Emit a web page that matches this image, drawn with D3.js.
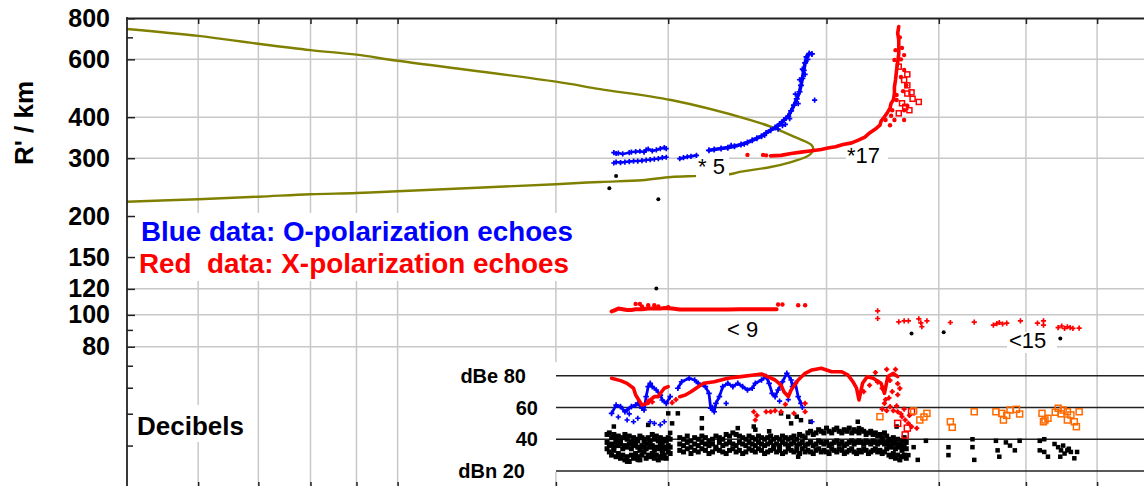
<!DOCTYPE html>
<html><head><meta charset="utf-8">
<script src="https://cdn.jsdelivr.net/npm/d3@7"></script>
<style>
body{margin:0;background:#fff}
svg{display:block}
text{font-family:"Liberation Sans",Arial,sans-serif}
</style>
</head><body>
<svg id="c" width="1144" height="486"></svg>
<script>
// ---------- axes / ticks ----------
const xGrid = [6,7,8,9,10,15,20,30,40,50,60];
const yMajor = [800,600,400,300,200,150,120,100,80];
const yMinor = [700,90,70,60,50,40,30];
const yGrid = [600,400,300,120,100,80];
const dbLevels = [80,60,40,20];
const dbLabels = ["dBe 80","60","40","dBn 20"];

// ---------- model curve (olive) ----------
const cutoffX = [5,6,7,8,9,10,15,16.8,20.15,24.7,26.0,27.4,28.5,28.9,29.0,28.8,28.5,27.4,26.0,24.1,23.4,21.6,20.15,18.7,16.8,15,10,9,8,7,6,5];
const cutoffR = [742,707,669,640,620,594,513,487,451,392,374,352,336,328,318,309,303,292,282,273,268,265,263,257,254,250,238,235,233,229,225,221];

// ---------- O-polarization echoes (blue), [x, R'] ----------
const oUpper = [[17.4,312],[17.5,310],[17.6,311],[17.8,309],[18.1,312],[18.2,313],[18.4,314],[18.6,315],[18.8,313],[18.9,318],[19.0,320],[19.2,316],[19.4,318],[19.6,321],[19.8,323],[19.9,321]];
const oLower = [[17.4,290],[17.5,292],[17.7,291],[17.9,292],[18.1,293],[18.3,294],[18.5,294],[18.7,295],[18.9,296],[19.1,297],[19.3,298],[19.5,299],[19.7,301],[19.9,302]];
const oMid = [[20.6,299],[20.8,301],[21.0,303],[21.2,304],[21.5,306]];
const oRise = [[22.2,317],[22.5,319],[22.9,321],[23.3,323],[23.7,326],[24.1,330],[24.5,335],[24.8,340],[25.1,345],[25.4,350],[25.7,358],[26.0,365],[26.3,372],[26.6,381],[26.9,392],[27.2,403],[27.4,418],[27.6,435],[27.8,455],[28.0,478],[28.1,500],[28.2,525],[28.3,555],[28.4,585],[28.5,610],[28.7,625],[28.9,623]];
const oScatter = [[27.0,380],[27.3,396],[27.7,470],[28.0,520],[28.2,560],[29.1,451],[27.9,440],[26.5,368],[26.8,377],[25.6,352],[24.3,331],[23.5,328],[28.4,540],[28.6,600]];

// ---------- X-polarization echoes (red), [x, R'] ----------
const xLead = [[24.5,307],[25.5,307],[25.7,306]];
const xRise = [[26.0,305],[26.7,306],[27.4,310],[28.1,313],[28.9,316],[29.6,319],[30.1,322],[30.7,325],[31.3,330],[32.0,334],[32.6,341],[33.1,348],[33.5,358],[34.0,368],[34.4,378],[34.5,389],[34.8,401],[35.1,415],[35.3,426],[35.4,441],[35.6,451],[35.7,472],[35.7,494],[35.8,519],[35.9,557],[36.0,588],[36.1,625],[36.1,662],[36.1,687],[36.0,721],[36.1,755]];
const xScatter = [[35.7,597],[36.6,618],[36.6,557],[36.8,500],[35.9,451],[36.6,420],[35.4,404],[34.9,392],[35.3,378],[36.6,392],[36.9,433],[35.9,467],[35.7,392],[36.3,530],[36.4,650],[36.2,700],[35.5,420],[36.5,480],[36.3,600],[35.8,640]];
const xSquares = [[36.9,472],[37.3,476],[38.0,445],[37.1,420],[36.1,411],[36.4,441],[36.9,500],[36.6,519],[36.1,570],[37.4,455],[36.7,430],[36.9,540]];
const x100 = [[17.3,102.5],[17.4,103],[17.6,104.5],[17.8,104],[18.0,103.5],[18.2,103.5],[18.4,104],[18.7,104],[19.0,104.5],[19.3,104.5],[19.6,104.5],[19.8,105],[20.2,104.5],[20.6,103.8],[21.2,103.8],[21.8,103.9],[22.5,103.8],[23.3,103.8],[24.0,104],[24.8,104],[25.6,104],[26.4,104]];
const x100Scatter = [[18.4,108],[18.6,108],[18.7,106],[19.0,107],[19.3,107],[19.5,106],[20.0,105.5],[26.5,107.5],[26.8,107.5],[27.9,107],[28.4,107]];
const xRight = [[34.2,102.8],[34.2,97.5],[36.1,95.2],[36.6,95.9],[37.0,95.9],[38.0,97.3],[38.2,94.6],[38.3,92],[38.8,95.9],[41.2,94.8],[43.8,95.1],[46.0,93],[46.4,94],[46.7,94.8],[47.1,93.8],[47.6,94.4],[49.3,95.9],[51.5,94.4],[52.3,95.9],[52.3,93],[54.3,91.5],[54.8,92.5],[55.2,91],[55.6,92],[56.0,91.5],[56.4,91],[57.3,91.1]];
const blackR = [[17.5,265],[17.2,243],[19.5,225],[19.4,120.3],[37.3,87.7],[40.5,88.5],[54.6,84.7]];

// ---------- Decibel panel, [x, dB] ----------
const dbRed1 = [[17.3,78.4],[17.7,76.9],[18.0,75.2],[18.3,72.1],[18.4,67.8],[18.6,63.6],[18.7,61.5],[19.0,62.6],[19.1,64.7],[19.3,66.8],[19.5,66.8],[19.6,68.9],[19.8,72.1],[20.0,73.1]];
const dbRed2 = [[20.6,66.8],[20.9,67.8],[21.2,69.9],[21.6,73.1],[21.9,75.2],[22.5,76.2],[23.3,78.4],[24.1,79.4],[24.9,80.4],[25.4,81.1],[25.8,79.4],[26.3,77.3],[26.7,74.1],[26.9,69.9],[27.2,66.8],[27.4,71.0],[27.9,77.3],[28.4,81.5],[28.9,83.6],[29.6,84.7],[30.4,82.5],[31.2,82.5],[31.7,80.4],[32.1,76.2],[32.4,72.1],[32.6,64.7],[32.9,75.2],[33.3,79.4],[33.8,78.4],[34.5,75.2],[34.8,68.9],[35.1,79.4],[35.6,81.5],[36.0,79.4]];
const dbRedScatter = [[33.0,70],[33.5,74],[34.0,82],[34.2,76],[34.6,72],[35.0,84],[35.3,77],[35.5,70],[35.8,84],[36.0,75],[36.2,72],[35.2,66],[34.9,65],[36.0,68],[34.8,62.6],[35.3,60.5],[35.6,58],[36.0,57.3],[36.3,56],[36.4,54.2],[36.7,52.1],[37.0,50],[37.3,47.9],[37.8,46.9],[35.0,58],[35.9,61],[36.6,59],[37.1,55],[34.6,59],[19.0,64],[19.2,63.5],[24.9,57.3],[25.0,52.1],[25.1,55],[25.7,57.3],[26.0,57.3],[26.3,58],[26.7,57.3],[27.6,56.3],[28.4,62.6],[28.4,57.3],[27.0,62],[20.2,63],[20.4,65]];
const dbBlue1 = [[17.3,56.3],[17.5,61.5],[17.7,60.5],[17.9,57.3],[18.0,58.4],[18.2,60.5],[18.4,61.5],[18.5,62.6],[18.7,59.5],[18.8,58.4],[18.9,66.8],[19.0,73.1],[19.1,75.2],[19.2,73.1],[19.4,71.0],[19.6,67.8],[19.7,64.7],[19.9,62.6],[20.1,66.8]];
const dbBlue2 = [[20.5,72.1],[20.7,76.2],[21.1,78.4],[21.4,77.3],[21.6,75.2],[22.0,73.1],[22.2,68.9],[22.3,59.5],[22.5,57.3],[22.6,62.6],[22.8,66.8],[23.0,73.1],[23.3,75.2],[23.6,73.1],[23.9,75.2],[24.2,73.1],[24.5,71.0],[24.8,72.1],[25.0,75.2],[25.4,77.3],[25.7,79.4],[25.9,75.2],[26.1,68.9],[26.3,66.8],[26.5,71.0],[26.8,76.2],[27.1,81.5],[27.4,77.3],[27.5,73.1],[27.7,75.2],[27.9,66.8],[28.1,62.6]];
const dbBlueScatter = [[18.0,52.1],[18.3,51],[18.5,53.2],[17.6,54],[19.1,51],[19.3,50],[19.6,49],[19.8,51],[23.2,62.6],[28.9,51],[28.2,60],[27.2,65],[26.6,64],[22.4,60],[18.1,56]];
const dbOrange = [[34.4,54.2],[37.5,57.8],[38.1,52.1],[38.8,56.3],[38.5,54],[41.2,51],[41.4,47.5],[43.8,57.3],[46.3,57.3],[47.0,56.3],[47.2,52.1],[47.6,55],[48.0,58.4],[48.8,58.8],[49.2,55.9],[52.1,56.3],[52.5,52.1],[52.9,53.2],[52.3,51],[54.3,59.5],[55.0,58.4],[55.6,57.3],[56.1,55.3],[55.6,52.1],[56.6,51],[56.9,47.9],[57.3,57.3],[53.9,57],[54.7,56]];
const dbRedSquares = [[37.3,57.3],[36.7,42.7],[36.0,50],[36.9,47]];

// noise band (black), per x position three levels
const band1X = [17.1,17.2,17.3,17.4,17.5,17.6,17.7,17.8,17.9,18.0,18.1,18.2,18.3,18.4,18.5,18.6,18.7,18.8,18.9,19.0,19.1,19.2,19.3,19.4,19.5,19.6,19.7,19.8,19.9,20.0,20.1];
const band1Low = [34,32,30,33,29,31,28,30,27,29,26,30,28,31,29,27,30,32,28,30,29,31,28,30,27,29,31,30,28,32,31];
const band1Mid = [38,36,37,35,38,36,37,34,36,35,37,34,36,38,35,33,36,35,34,37,35,36,33,35,34,36,33,35,34,36,35];
const band1High = [43,44,41,43,40,42,39,41,43,40,42,38,41,40,39,42,41,38,40,41,39,43,40,42,39,41,38,40,39,41,40];
const band2X = [20.6,20.8,21.0,21.2,21.4,21.6,21.8,22.0,22.2,22.4,22.6,22.8,23.0,23.2,23.4,23.6,23.8,24.0,24.2,24.4,24.6,24.8,25.0,25.2,25.4,25.6,25.8,26.0,26.2,26.4,26.6,26.8,27.0,27.2,27.4,27.6,27.8,28.0,28.2,28.4,28.6,28.8,29.0,29.2,29.4,29.6,29.8,30.0,30.2,30.4,30.6,30.8,31.0,31.2,31.4,31.6,31.8,32.0,32.2,32.4,32.6,32.8,33.0,33.2,33.4,33.6,33.8,34.0,34.2,34.4,34.6,34.8,35.0,35.2,35.4,35.6,35.8,36.0,36.2,36.4,36.6,36.8];
const band2Low = [33,32,34,31,33,32,34,33,31,32,34,33,32,31,33,34,32,33,31,32,34,33,32,34,33,31,32,33,34,32,33,31,32,34,33,32,33,31,34,32,33,32,31,33,34,32,33,32,31,34,33,32,34,33,31,32,33,34,32,31,33,32,34,33,31,32,33,34,32,33,31,32,34,30,29,31,28,30,27,29,30,28];
const band2Mid = [37,36,38,35,37,36,38,37,36,37,35,38,36,37,38,37,36,38,37,36,38,37,36,38,37,36,37,38,36,37,36,38,37,36,37,38,36,37,38,36,37,38,36,37,39,38,37,38,36,37,38,39,37,38,36,37,38,39,37,38,39,38,37,39,38,37,39,38,37,38,39,37,38,36,35,37,34,36,35,33,36,34];
const band2High = [41,40,42,39,41,40,42,41,39,40,42,41,40,43,42,44,43,42,41,40,42,41,40,42,41,40,41,42,40,41,40,42,41,40,41,42,40,43,42,41,44,45,43,44,46,45,44,47,45,44,46,47,45,44,46,45,47,44,46,45,44,46,45,43,44,45,43,44,42,43,41,44,42,40,39,41,38,40,37,39,41,38];
const noiseScatter = [[17.4,48],[19.0,49],[20.0,56.3],[20.5,56.3],[20.2,50],[20.1,44],[21.8,53.2],[21.8,47],[23.9,47],[24.9,48],[25.0,46],[25.9,45],[26.7,56.3],[27.2,54.2],[27.4,50],[27.8,54.2],[28.1,52],[28.8,51],[27.9,29],[28.0,31],[32.5,51],[32.6,47],[35.9,48],[18.0,25.9],[18.5,27],[19.7,28],
 [37.5,35],[37.9,27],[37.0,30],[38.7,39],[41.0,35],[41.0,30],[43.6,40],[43.6,35],[43.8,27],[46.3,39],[46.5,33],[46.7,29],[47.5,38],[48.0,36],[48.6,33],[49.2,39],[51.8,39],[52.4,40],[51.8,33],[52.4,32],[52.9,29],[54.3,35],[54.7,33],[55.0,36],[55.2,31],[55.6,33],[56.1,32],[56.6,28],[57.0,32],[54.6,29],[55.8,34],[53.8,37]];

// ---------- drawing ----------
const svg = d3.select('#c');
const W = 1144, H = 486;
const x = d3.scaleLog().domain([5,70]).range([127,1157.3]);
const y = d3.scaleLog().domain([800,80]).range([18.3,346.7]);
const db = d3.scaleLinear().domain([80,20]).range([375.7,471]);

const GRID = '#c8c8c8', AX = '#222';
svg.append('rect').attr('width',W).attr('height',H).attr('fill','#fff');

// grid
svg.append('g').selectAll('line').data(xGrid).join('line')
  .attr('x1',d=>x(d)).attr('x2',d=>x(d)).attr('y1',18).attr('y2',H)
  .attr('stroke',GRID).attr('stroke-width',1.5);
svg.append('g').selectAll('line').data(yGrid).join('line')
  .attr('x1',127).attr('x2',W).attr('y1',d=>y(d)).attr('y2',d=>y(d))
  .attr('stroke',GRID).attr('stroke-width',1.5);

// model curve
const cutPts = cutoffX.map((v,i)=>[v,cutoffR[i]]);
svg.append('path').datum(cutPts)
  .attr('d', d3.line().x(d=>x(d[0])).y(d=>y(d[1])).curve(d3.curveCatmullRom.alpha(0.5)))
  .attr('fill','none').attr('stroke','#808000').attr('stroke-width',2.4);

// white boxes (legend, labels, annotations)
const boxes = [[136,213,450,68],[132,405,122,37],[436,362,121,110],[696,157,33,24],[846,147,42,21],[722,320,42,22],[1007,332,50,21]];
svg.append('g').selectAll('rect').data(boxes).join('rect')
  .attr('x',d=>d[0]).attr('y',d=>d[1]).attr('width',d=>d[2]).attr('height',d=>d[3]).attr('fill','#fff');

// dB level lines
svg.append('g').selectAll('line').data(dbLevels).join('line')
  .attr('x1',556).attr('x2',W).attr('y1',d=>db(d)).attr('y2',d=>db(d))
  .attr('stroke','#222').attr('stroke-width',1.5);

// helpers
const lineR = d3.line().x(d=>x(d[0])).y(d=>y(d[1]));
const lineDb = d3.line().x(d=>x(d[0])).y(d=>db(d[1]));
function trace(data, gen, color, w){
  svg.append('path').datum(data).attr('d',gen).attr('fill','none')
    .attr('stroke',color).attr('stroke-width',w).attr('stroke-linejoin','round').attr('stroke-linecap','round');
}
function crosses(data, fy, color, s){
  svg.append('g').selectAll('path').data(data).join('path')
    .attr('d',d=>`M${x(d[0])-s},${fy(d[1])}H${x(d[0])+s}M${x(d[0])},${fy(d[1])-s}V${fy(d[1])+s}`)
    .attr('stroke',color).attr('stroke-width',1.7).attr('fill','none');
}
function dots(data, fy, color, r){
  svg.append('g').selectAll('circle').data(data).join('circle')
    .attr('cx',d=>x(d[0])).attr('cy',d=>fy(d[1])).attr('r',r).attr('fill',color);
}
function squares(data, fy, color, s, open){
  svg.append('g').selectAll('rect').data(data).join('rect')
    .attr('x',d=>x(d[0])-s/2).attr('y',d=>fy(d[1])-s/2).attr('width',s).attr('height',s)
    .attr('fill',open?'none':color).attr('stroke',open?color:'none').attr('stroke-width',open?1.5:0);
}

// noise band
const band1 = [];
band1X.forEach((v,i)=>{band1.push([v,band1Low[i]],[v,band1Mid[i]],[v,band1High[i]]);});
const band2 = [];
band2X.forEach((v,i)=>{band2.push([v,band2Low[i]],[v,band2Mid[i]],[v,band2High[i]]);});
squares(band1, db, '#000', 5);
squares(band2, db, '#000', 5);
squares(noiseScatter, db, '#000', 4.5);

// dB traces
trace(dbBlue1, lineDb, '#0000ff', 2.8); crosses(dbBlue1, db, '#0000ff', 2.8);
trace(dbBlue2, lineDb, '#0000ff', 2.8); crosses(dbBlue2, db, '#0000ff', 2.8);
crosses(dbBlueScatter, db, '#0000ff', 2.6);
trace(dbRed1, lineDb, '#ff0000', 3.6);
trace(dbRed2, lineDb, '#ff0000', 3.6);
crosses(dbRedScatter, db, '#ff0000', 2.6);
dots(dbRedScatter, db, '#ff0000', 1.9);
squares(dbRedSquares, db, '#ff0000', 6, true);
squares(dbOrange, db, '#ff6a00', 6, true);

// R' data
dots(blackR, y, '#000', 2);
trace(oUpper, lineR, '#0000ff', 2.4); crosses(oUpper, y, '#0000ff', 2.6);
trace(oLower, lineR, '#0000ff', 2.4); crosses(oLower, y, '#0000ff', 2.6);
trace(oMid, lineR, '#0000ff', 2.6); crosses(oMid, y, '#0000ff', 2.6);
trace(oRise, lineR, '#0000ff', 3.6); crosses(oRise, y, '#0000ff', 3);
crosses(oScatter, y, '#0000ff', 2.6);
dots(xLead, y, '#ff0000', 2.2);
trace(xRise, lineR, '#ff0000', 3.6);
dots(xScatter, y, '#ff0000', 2.2);
squares(xSquares, y, '#ff0000', 5, true);
trace(x100, lineR, '#ff0000', 4);
dots(x100Scatter, y, '#ff0000', 2.2);
crosses(xRight, y, '#ff0000', 2.6);

// axes
const yAxis = d3.axisLeft(y).tickValues(yMajor).tickFormat(d3.format('d')).tickSize(-8).tickSizeOuter(0).tickPadding(17);
const gy = svg.append('g').attr('transform','translate(127,0)').call(yAxis);
gy.select('.domain').remove();
gy.selectAll('line').attr('stroke',AX).attr('stroke-width',1.5);
gy.selectAll('text').attr('font-size',25).attr('font-weight','bold').attr('fill','#000')
  .attr('font-family','"Liberation Sans",Arial,sans-serif');
const gym = svg.append('g').attr('transform','translate(127,0)')
  .call(d3.axisLeft(y).tickValues(yMinor).tickFormat('').tickSize(-6).tickSizeOuter(0));
gym.select('.domain').remove();
gym.selectAll('line').attr('stroke',AX).attr('stroke-width',1.5);

const gt = svg.append('g').attr('transform','translate(0,18)')
  .call(d3.axisTop(x).tickValues(xGrid).tickFormat('').tickSize(-6).tickSizeOuter(0));
gt.select('.domain').attr('stroke',AX).attr('stroke-width',1.8);
gt.selectAll('line').attr('stroke',AX).attr('stroke-width',1.5);
const gb = svg.append('g').attr('transform','translate(0,488)')
  .call(d3.axisBottom(x).tickValues(xGrid).tickFormat('').tickSize(-6).tickSizeOuter(0));
gb.select('.domain').attr('stroke',AX).attr('stroke-width',1.8);
gb.selectAll('line').attr('stroke',AX).attr('stroke-width',1.5);
svg.append('line').attr('x1',127).attr('x2',127).attr('y1',17).attr('y2',H)
  .attr('stroke',AX).attr('stroke-width',1.8);

// texts
svg.append('text').attr('transform','translate(33,123) rotate(-90)').attr('text-anchor','middle')
  .attr('font-size',26).attr('font-weight','bold').text("R' / km");
svg.append('text').attr('x',137).attr('y',435).attr('font-size',26).attr('font-weight','bold').text('Decibels');
svg.append('text').attr('x',141).attr('y',241).attr('font-size',27).attr('font-weight','bold')
  .attr('fill','#0000ff').attr('textLength',432).attr('lengthAdjust','spacingAndGlyphs')
  .text('Blue data: O-polarization echoes');
svg.append('text').attr('x',139).attr('y',273).attr('font-size',27).attr('font-weight','bold')
  .attr('fill','#ff0000').attr('textLength',430).attr('lengthAdjust','spacingAndGlyphs')
  .style('white-space','pre').text('Red  data: X-polarization echoes');

const dbLabelX = [526,538,538,525];
svg.append('g').selectAll('text').data(dbLevels).join('text')
  .attr('x',(d,i)=>dbLabelX[i]).attr('y',d=>db(d)).attr('dy','0.36em').attr('text-anchor','end')
  .attr('font-size',20).attr('font-weight','bold').text((d,i)=>dbLabels[i]);

const notes = [["* 5",698,174],["*17",847,163],["< 9",727,337],["<15",1009,348]];
svg.append('g').selectAll('text').data(notes).join('text')
  .attr('x',d=>d[1]).attr('y',d=>d[2]).attr('font-size',22).style('white-space','pre').text(d=>d[0]);
</script>
</body></html>
